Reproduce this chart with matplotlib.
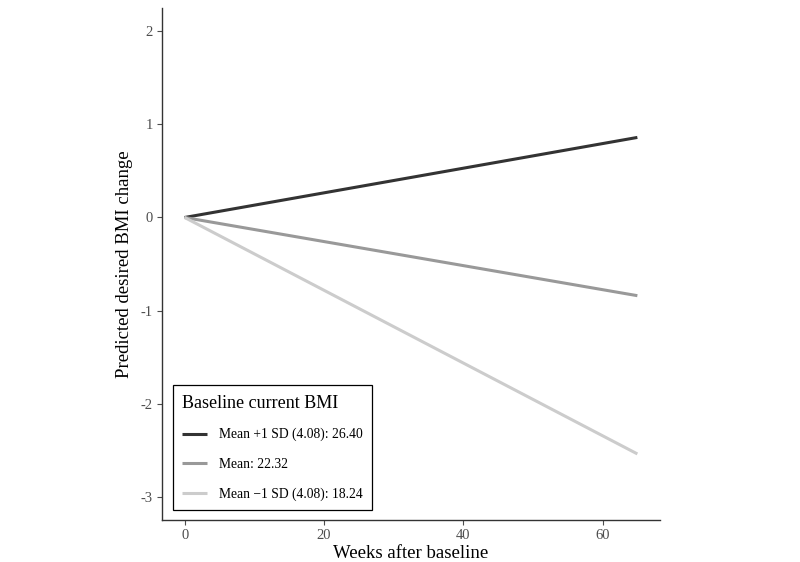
import numpy as np
import matplotlib.pyplot as plt

plt.rcParams['font.family'] = ['Liberation Serif', 'DejaVu Serif']

# Predicted desired BMI change over time by baseline BMI
weeks = [0, 65]
high_bmi = [0.0, 0.86]   # Mean +1 SD
mean_bmi = [0.0, -0.84]  # Mean
low_bmi = [0.0, -2.54]   # Mean -1 SD

labels = ["Mean +1 SD (4.08): 26.40", "Mean: 22.32", "Mean \u22121 SD (4.08): 18.24"]
colors = ["#333333", "#999999", "#cccccc"]

fig = plt.figure(figsize=(8, 5.62), dpi=100)
ax = fig.add_axes([0.2025, 0.0747, 0.6225, 0.911])

for ys, lab, c in zip([high_bmi, mean_bmi, low_bmi], labels, colors):
    ax.plot(weeks, ys, color=c, lw=2.2, label=lab, solid_capstyle='butt')

ax.set_xlim(-3.25, 68.25)
ax.set_ylim(-3.25, 2.25)
ax.set_xticks([0, 20, 40, 60])
ax.set_yticks([-3, -2, -1, 0, 1, 2])
ax.set_yticklabels(["-3", "-2", "-1", "0", "1", "2"])

for s in ["top", "right"]:
    ax.spines[s].set_visible(False)
for s in ["left", "bottom"]:
    ax.spines[s].set_color("#333333")
    ax.spines[s].set_linewidth(1.0)
ax.tick_params(colors="#4d4d4d", labelsize=10.5, length=3.5, width=0.8, pad=3)

ax.set_xlabel("Weeks after baseline", fontsize=13.5, labelpad=2)
ax.set_ylabel("Predicted desired BMI change", fontsize=13.5, labelpad=6)

leg = ax.legend(title="Baseline current BMI", loc="lower left",
                bbox_to_anchor=(0.008, 0.006), fontsize=9.8, title_fontsize=13,
                fancybox=False, edgecolor="black", framealpha=1,
                handlelength=1.8, borderpad=0.7, labelspacing=1.2,
                handletextpad=0.9)
leg._legend_box.align = "left"
leg.get_frame().set_linewidth(0.9)

fig.savefig("out.png", dpi=100)
